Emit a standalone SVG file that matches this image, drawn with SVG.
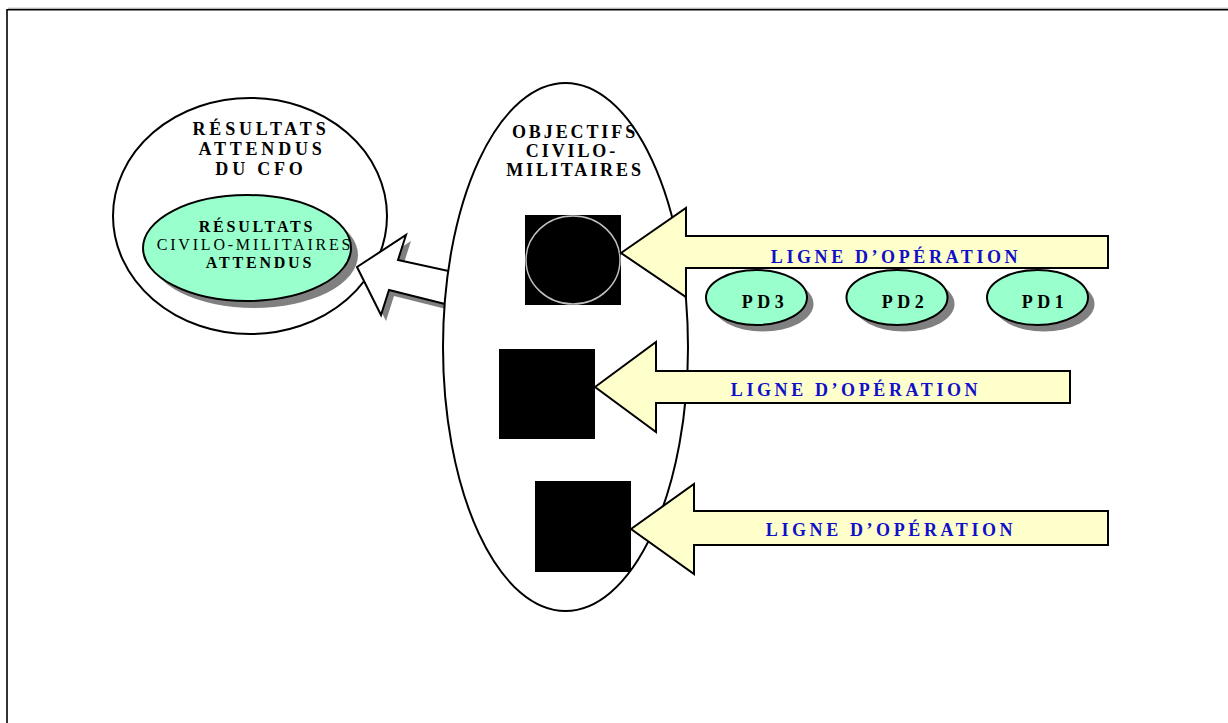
<svg xmlns="http://www.w3.org/2000/svg" width="1228" height="723" viewBox="0 0 1228 723">
  <style>
    text { font-family: "Liberation Serif", "Times New Roman", serif; }
    .ttl { font-size: 18px; font-weight: bold; fill: #000; text-anchor: middle; letter-spacing: 3.8px; }
    .obt { letter-spacing: 2.9px; }
    .in { font-size: 16px; fill: #000; text-anchor: middle; letter-spacing: 2.8px; }
    .inb { font-weight: bold; }
    .lop { font-size: 18px; font-weight: bold; fill: #1010C8; text-anchor: middle; letter-spacing: 3.6px; }
    .pd { font-size: 18px; font-weight: bold; fill: #000; text-anchor: middle; letter-spacing: 4.5px; }
    .line { fill: #fff; stroke: #000; stroke-width: 2; }
    .shadow { fill: #808080; stroke: none; }
    .green { fill: #99FFCC; stroke: #000; stroke-width: 2; }
    .yellow { fill: #FFFFCC; stroke: #000; stroke-width: 2; stroke-linejoin: miter; }
    .obj { fill: #000; }
  </style>

  <!-- page frame -->
  <g id="frame">
    <line x1="8" y1="8.25" x2="1228" y2="8.25" stroke="#9a9a9a" stroke-width="1"/>
    <path d="M7,723 V9.75 H1228" fill="none" stroke="#000" stroke-width="1.6"/>
  </g>

  <!-- expected results of the CFO -->
  <g id="resultats-cfo">
    <ellipse class="line" cx="250" cy="216" rx="137" ry="118"/>
    <text class="ttl" x="261" y="135">RÉSULTATS</text>
    <text class="ttl" x="262" y="155">ATTENDUS</text>
    <text class="ttl" x="261" y="175">DU CFO</text>
  </g>

  <g id="resultats-cm">
    <ellipse class="shadow" cx="254" cy="255" rx="104" ry="53"/>
    <ellipse class="green" cx="247" cy="248" rx="104" ry="53"/>
    <text class="in inb" x="257" y="232">RÉSULTATS</text>
    <text class="in" x="255" y="250">CIVILO-MILITAIRES</text>
    <text class="in inb" x="260" y="268">ATTENDUS</text>
  </g>

  <!-- connectors -->
  <g id="connectors">
    <!-- wide arrow from objectives to results -->
    <path class="shadow" transform="translate(5,6)" d="M357,267 L406,235 L398,260 L490,280 L485,314 L389,290 L381,315 Z"/>
    <path fill="#fff" stroke="#000" stroke-width="2" stroke-linejoin="miter" d="M357,267 L406,235 L398,260 L490,280 L485,314 L389,290 L381,315 Z"/>
  </g>

  <!-- civil-military objectives -->
  <g id="objectifs">
    <ellipse class="line" cx="565.5" cy="347" rx="122.5" ry="264"/>
    <text class="ttl obt" x="575" y="138">OBJECTIFS</text>
    <text class="ttl obt" x="572" y="157">CIVILO-</text>
    <text class="ttl obt" x="575" y="176">MILITAIRES</text>
  </g>

  <g id="objectif-1">
    <rect class="obj" x="525" y="215" width="96" height="90"/>
    <ellipse cx="573" cy="260" rx="47" ry="44" fill="none" stroke="#c0c0c0" stroke-width="1.5"/>
  </g>
  <g id="objectif-2">
    <rect class="obj" x="499" y="349" width="96" height="90"/>
  </g>
  <g id="objectif-3">
    <rect class="obj" x="535" y="481" width="96" height="91"/>
  </g>

  <!-- lines of operation -->
  <g id="ligne-1">
    <path class="yellow" d="M621,253 L686,208 L686,236 L1108,236 L1108,268 L686,268 L686,297 Z"/>
    <text class="lop" x="896" y="263">LIGNE D’OPÉRATION</text>
  </g>
  <g id="ligne-2">
    <path class="yellow" d="M595,387 L656,342 L656,371 L1070,371 L1070,403 L656,403 L656,432 Z"/>
    <text class="lop" x="856" y="396">LIGNE D’OPÉRATION</text>
  </g>
  <g id="ligne-3">
    <path class="yellow" d="M631,529 L694,484 L694,511 L1108,511 L1108,545 L694,545 L694,574 Z"/>
    <text class="lop" x="891" y="536">LIGNE D’OPÉRATION</text>
  </g>

  <!-- decisive points -->
  <g id="pd3">
    <ellipse class="shadow" cx="763" cy="304" rx="50.5" ry="27.5"/>
    <ellipse class="green" cx="756.5" cy="297.5" rx="50.5" ry="27.5"/>
    <text class="pd" x="765" y="308">PD3</text>
  </g>
  <g id="pd2">
    <ellipse class="shadow" cx="904" cy="304" rx="50.5" ry="27.5"/>
    <ellipse class="green" cx="897" cy="297.5" rx="50.5" ry="27.5"/>
    <text class="pd" x="905" y="308">PD2</text>
  </g>
  <g id="pd1">
    <ellipse class="shadow" cx="1044" cy="304" rx="50.5" ry="27.5"/>
    <ellipse class="green" cx="1037.5" cy="297.5" rx="50.5" ry="27.5"/>
    <text class="pd" x="1045" y="308">PD1</text>
  </g>
</svg>
